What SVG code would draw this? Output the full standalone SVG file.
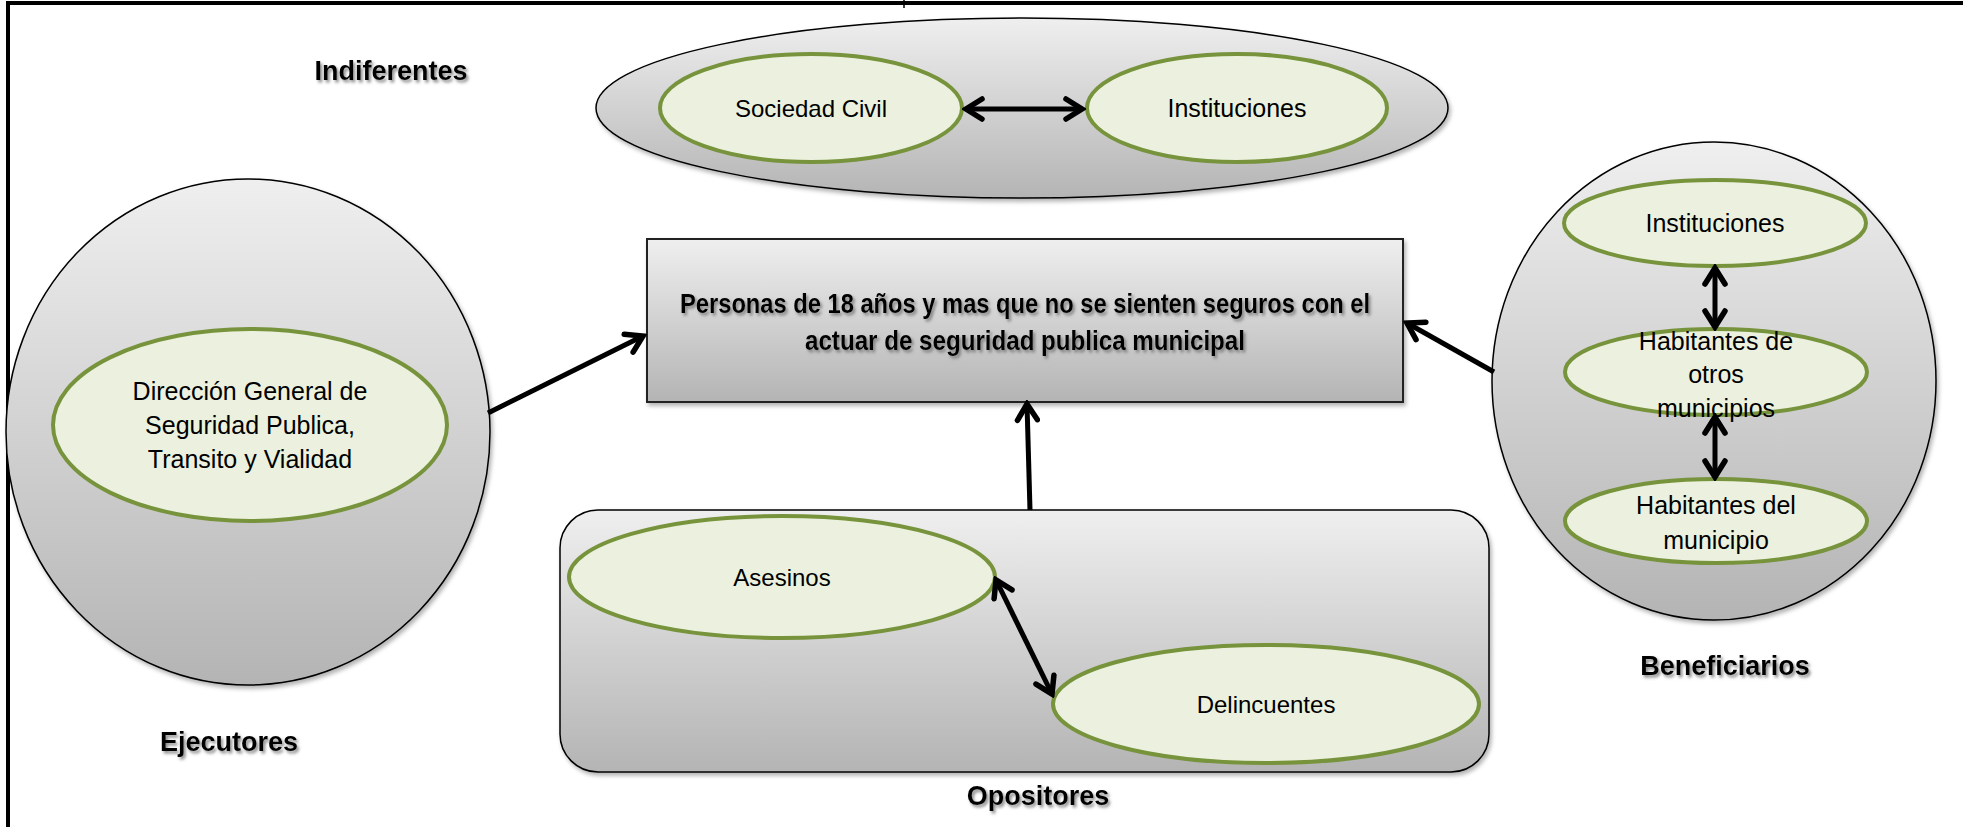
<svg xmlns="http://www.w3.org/2000/svg" width="1963" height="827" viewBox="0 0 1963 827">
<defs>
<linearGradient id="gray" x1="0" y1="0" x2="0" y2="1">
<stop offset="0" stop-color="#efefef"/>
<stop offset="1" stop-color="#b4b4b4"/>
</linearGradient>
<filter id="tsh" x="-10%" y="-30%" width="120%" height="160%">
<feDropShadow dx="2" dy="2.5" stdDeviation="1.5" flood-color="#666" flood-opacity="0.75"/>
</filter>
<filter id="bsh" x="-5%" y="-5%" width="110%" height="115%">
<feDropShadow dx="2" dy="3" stdDeviation="2" flood-color="#000" flood-opacity="0.3"/>
</filter>
<marker id="ah" viewBox="0 0 26 26" refX="22" refY="13" markerWidth="26" markerHeight="26" markerUnits="userSpaceOnUse" orient="auto-start-reverse">
<path d="M6,3 L22,13 L6,23" fill="none" stroke="#000" stroke-width="5.5" stroke-linecap="round" stroke-linejoin="miter"/>
</marker>
</defs>
<style>
.outer{fill:url(#gray);stroke:#000;stroke-width:1.5;filter:url(#bsh)}
.inner{fill:#ebf1de;stroke:#77933c;stroke-width:4}
.t{font-family:"Liberation Sans",Arial,sans-serif;font-size:24px;fill:#000;text-anchor:middle}
.s{font-size:25px}
.b{font-family:"Liberation Sans",Arial,sans-serif;font-weight:bold;font-size:27px;fill:#000;text-anchor:middle;filter:url(#tsh)}
.c{stroke:#000;stroke-width:5;fill:none;marker-end:url(#ah)}
.d{stroke:#000;stroke-width:5;fill:none;marker-end:url(#ah);marker-start:url(#ah)}
.frame{stroke:#000;stroke-width:4;fill:none}
</style>
<rect width="1963" height="827" fill="#fff"/>
<g id="frame">
<line class="frame" x1="8" y1="3" x2="1963" y2="3"/>
<line class="frame" x1="8" y1="1" x2="8" y2="827"/>
<line x1="904" y1="0" x2="904" y2="8" stroke="#000" stroke-width="1.5"/>
</g>

<g id="indiferentes">
<ellipse class="outer" cx="1022" cy="108" rx="426" ry="90"/>
<text class="b" x="391" y="80">Indiferentes</text>
</g>
<g id="sociedad-civil">
<ellipse class="inner" cx="811" cy="108" rx="151" ry="54"/>
<text class="t" x="811" y="117">Sociedad Civil</text>
</g>
<g id="instituciones-ind">
<ellipse class="inner" cx="1237" cy="108" rx="150" ry="54"/>
<text class="t s" x="1237" y="117">Instituciones</text>
</g>

<g id="ejecutores">
<ellipse class="outer" cx="248" cy="432" rx="242" ry="253"/>
<text class="b" x="229" y="751">Ejecutores</text>
</g>
<g id="direccion">
<ellipse class="inner" cx="250" cy="425" rx="197" ry="96"/>
<text class="t s" x="250" y="400">Dirección General de</text>
<text class="t s" x="250" y="434">Seguridad Publica,</text>
<text class="t s" x="250" y="468">Transito y Vialidad</text>
</g>

<g id="problema">
<rect x="647" y="239" width="756" height="163" fill="url(#gray)" stroke="#222" stroke-width="2" filter="url(#bsh)"/>
<text class="b" x="1025" y="313" font-size="25" textLength="690" lengthAdjust="spacingAndGlyphs">Personas de 18 años y mas que no se sienten seguros con el</text>
<text class="b" x="1025" y="350" font-size="25" textLength="440" lengthAdjust="spacingAndGlyphs">actuar de seguridad publica municipal</text>
</g>

<g id="opositores">
<rect class="outer" x="560" y="510" width="929" height="262" rx="38" ry="38"/>
<text class="b" x="1038" y="805">Opositores</text>
</g>
<g id="asesinos">
<ellipse class="inner" cx="782" cy="577" rx="213" ry="61"/>
<text class="t" x="782" y="586">Asesinos</text>
</g>
<g id="delincuentes">
<ellipse class="inner" cx="1266" cy="704" rx="213" ry="59"/>
<text class="t" x="1266" y="713">Delincuentes</text>
</g>

<g id="beneficiarios">
<ellipse class="outer" cx="1714" cy="381" rx="222" ry="239"/>
<text class="b" x="1725" y="675">Beneficiarios</text>
</g>
<g id="instituciones-ben">
<ellipse class="inner" cx="1715" cy="223" rx="151" ry="43"/>
<text class="t s" x="1715" y="232">Instituciones</text>
</g>
<g id="habitantes-otros">
<ellipse class="inner" cx="1716" cy="372" rx="151" ry="43"/>
<text class="t s" x="1716" y="350">Habitantes de</text>
<text class="t s" x="1716" y="383">otros</text>
<text class="t s" x="1716" y="417">municipios</text>
</g>
<g id="habitantes-del">
<ellipse class="inner" cx="1716" cy="521" rx="151" ry="42"/>
<text class="t s" x="1716" y="514">Habitantes del</text>
<text class="t s" x="1716" y="549">municipio</text>
</g>

<g id="connectors">
<line class="c" x1="488" y1="413" x2="643" y2="336"/>
<line class="c" x1="1494" y1="372" x2="1407" y2="323"/>
<line class="c" x1="1030" y1="510" x2="1027" y2="404"/>
<line class="d" x1="966" y1="109" x2="1082" y2="109"/>
<line class="d" x1="996" y1="580" x2="1052" y2="694"/>
<line class="d" x1="1715" y1="268" x2="1715" y2="327"/>
<line class="d" x1="1715" y1="417" x2="1715" y2="477"/>
</g>
</svg>
